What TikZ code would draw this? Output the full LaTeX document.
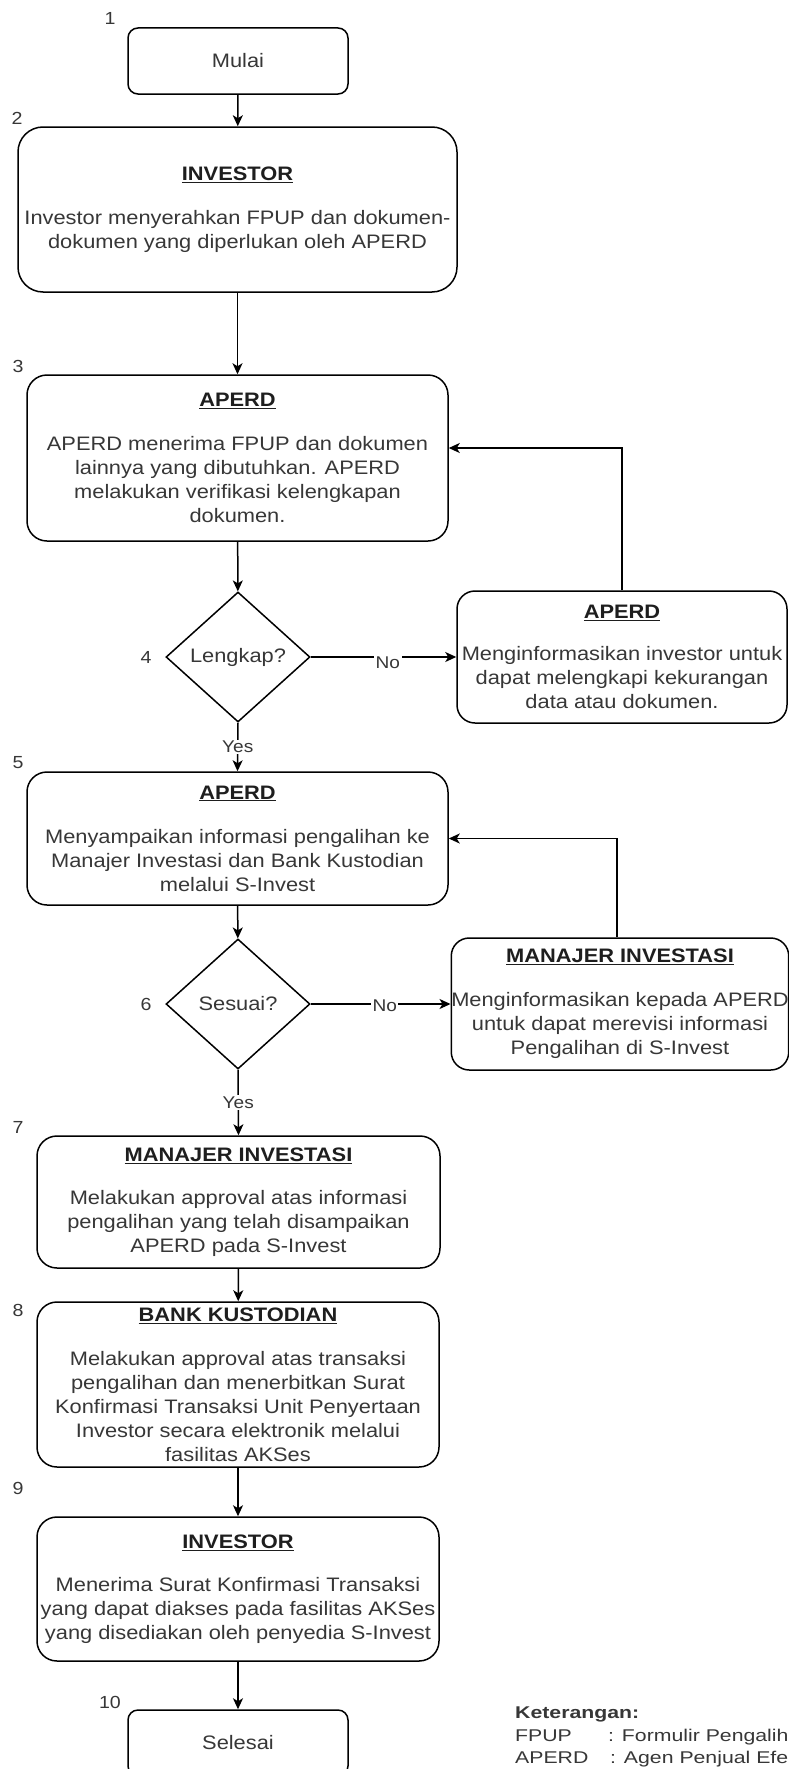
\documentclass[tikz,border=0pt]{standalone}
\usepackage{fontspec}
\setmainfont{Liberation Sans}[FakeStretch=1.12]
\newfontfamily\legfont{Liberation Sans}[FakeStretch=1.25]
\usetikzlibrary{shapes.geometric,arrows.meta}
\definecolor{txtgray}{RGB}{55,55,55}
\definecolor{ttlgray}{RGB}{30,30,30}
\newcommand{\boxtitle}[1]{\textcolor{ttlgray}{\underline{\textbf{#1}}}}
\begin{document}
\begin{tikzpicture}[x=1pt,y=-1pt,
  box/.style={draw, line width=1.5pt, rounded corners=20pt, align=center, inner sep=0pt,
    text=txtgray, font=\fontsize{19.5}{24}\selectfont},
  dia/.style={draw, diamond, line width=1.5pt, inner sep=0pt, minimum width=144pt,
    minimum height=130pt, text=txtgray, font=\fontsize{19.5}{24}\selectfont},
  num/.style={text=txtgray, inner sep=0pt, font=\fontsize{17.5}{20}\selectfont},
  lab/.style={fill=white, text=txtgray, inner sep=1.5pt, font=\fontsize{17}{20}\selectfont},
  leg/.style={anchor=base west, inner sep=0pt, text=txtgray, font=\legfont\fontsize{17}{20}\selectfont},
  arr/.style={line width=1.5pt, -{Stealth[length=11pt,width=10pt,inset=3pt]}}]
\useasboundingbox (0,0) rectangle (789,1769);
\fill[white] (0,0) rectangle (789,1769);
\clip (0,0) rectangle (789,1769);

% nodes
\node[box, rounded corners=10pt, minimum width=220pt, minimum height=66pt] (start) at (238,61) {Mulai};
\node[box, rounded corners=25pt, minimum width=439pt, minimum height=165pt] (b2) at (237.5,209.5)
  {\boxtitle{INVESTOR}\\[20pt]Investor menyerahkan FPUP dan dokumen-\\dokumen yang diperlukan oleh APERD};
\node[box, minimum width=421pt, minimum height=166pt] (b3) at (237.5,458)
  {\boxtitle{APERD}\\[20pt]APERD menerima FPUP dan dokumen\\lainnya yang dibutuhkan. APERD\\melakukan verifikasi kelengkapan\\dokumen.};
\node[dia] (d4) at (238,657) {Lengkap?};
\node[box, rounded corners=18pt, minimum width=330pt, minimum height=132pt] (s4) at (622,657)
  {\boxtitle{APERD}\\[18pt]Menginformasikan investor untuk\\dapat melengkapi kekurangan\\data atau dokumen.};
\node[box, minimum width=421pt, minimum height=133pt] (b5) at (237.5,838.5)
  {\boxtitle{APERD}\\[20pt]Menyampaikan informasi pengalihan ke\\Manajer Investasi dan Bank Kustodian\\melalui S-Invest};
\node[dia] (d6) at (238,1004) {Sesuai?};
\node[box, rounded corners=18pt, minimum width=336pt, minimum height=132pt] (mi) at (620,1004)
  {\boxtitle{MANAJER INVESTASI}\\[20pt]Menginformasikan kepada APERD\\untuk dapat merevisi informasi\\Pengalihan di S-Invest};
\node[box, minimum width=403pt, minimum height=132pt] (b7) at (238.5,1202)
  {\boxtitle{MANAJER INVESTASI}\\[19pt]Melakukan approval atas informasi\\pengalihan yang telah disampaikan\\APERD pada S-Invest};
\node[box, minimum width=402pt, minimum height=165pt] (b8) at (238,1384.5)
  {\boxtitle{BANK KUSTODIAN}\\[20pt]Melakukan approval atas transaksi\\pengalihan dan menerbitkan Surat\\Konfirmasi Transaksi Unit Penyertaan\\Investor secara elektronik melalui\\fasilitas AKSes};
\node[box, minimum width=402pt, minimum height=144pt] (b9) at (238,1589)
  {\boxtitle{INVESTOR}\\[19pt]Menerima Surat Konfirmasi Transaksi\\yang dapat diakses pada fasilitas AKSes\\yang disediakan oleh penyedia S-Invest};
\node[box, rounded corners=10pt, minimum width=220pt, minimum height=66pt] (end) at (238,1743) {Selesai};

% step numbers
\node[num] (n1) at (110,18) {1};
\node[num] (n2) at (17,118) {2};
\node[num] (n3) at (18,366) {3};
\node[num] (n4) at (146,657) {4};
\node[num] (n5) at (18,763) {5};
\node[num] (n6) at (146,1004) {6};
\node[num] (n7) at (18,1127) {7};
\node[num] (n8) at (18,1310) {8};
\node[num] (n9) at (18,1488) {9};
\node[num] (n10) at (110,1702) {10};

% connectors
\draw[arr] (start) -- (b2);
\draw[arr] (b2) -- (b3);
\draw[arr] (b3) -- (d4);
\draw[arr] (d4.east) -- node[lab, pos=0.53, yshift=-6pt] {No} (s4.west);
\draw[arr] (s4.north) |- ([yshift=10pt]b3.east);
\draw[arr] (d4.south) -- node[lab] {Yes} (b5.north);
\draw[arr] (b5) -- (d6);
\draw[arr] (d6.east) -- node[lab, pos=0.53, yshift=-2pt] {No} (mi.west);
\draw[arr] ([xshift=-3pt]mi.north) |- (b5.east);
\draw[arr] (d6.south) -- node[lab] {Yes} (b7.north);
\draw[arr] (b7) -- (b8);
\draw[arr] (b8) -- (b9);
\draw[arr] (b9) -- (end);

% legend
\node[leg] (ket) at (515,1718) {\textbf{Keterangan:}};
\node[leg] (k1) at (515,1741) {FPUP};
\node[leg] (k1d) at (608,1741) {: Formulir Pengalihan Unit Penyertaan};
\node[leg] (k2) at (515,1763) {APERD};
\node[leg] (k2d) at (610,1763) {: Agen Penjual Efek Reksa Dana};
\end{tikzpicture}
\end{document}
